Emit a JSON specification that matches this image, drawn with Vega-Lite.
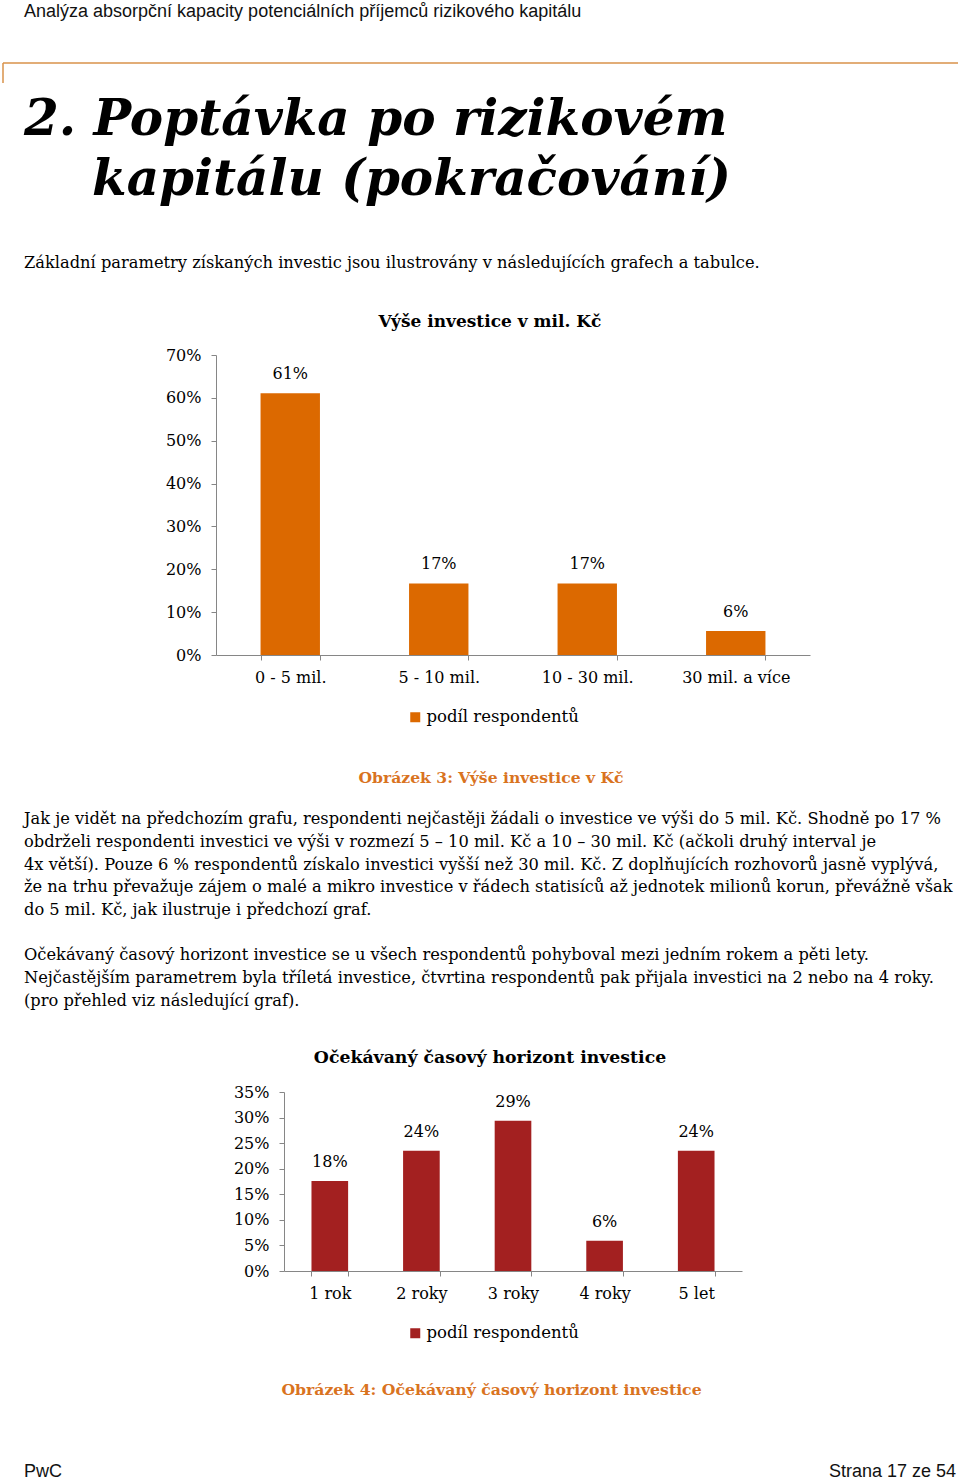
{
  "$schema": "https://vega.github.io/schema/vega-lite/v6.json",
  "padding": 0,
  "background": "white",
  "bounds": "flush",
  "spacing": 0,
  "resolve": {"scale": {"color": "independent", "x": "independent", "y": "independent"}, "legend": {"color": "independent"}},
  "config": {
    "view": {"stroke": null},
    "title": {"frame": "group", "orient": "bottom", "baseline": "top"}
  },
  "vconcat": [
    {
      "width": 960, "height": 63,
      "data": {"values": []},
      "mark": "text", "encoding": {},
      "title": {"text": "Analýza absorpční kapacity potenciálních příjemců rizikového kapitálu", "font": "Liberation Sans", "fontSize": 18, "fontWeight": "normal", "color": "#111111", "anchor": "start", "dx": 24, "offset": -60}
    },
    {
      "width": 960, "height": 20,
      "data": {"values": [{"a": 1}]},
      "layer": [
        {"mark": {"type": "rule", "color": "#D9924A", "strokeWidth": 1.5}, "encoding": {
          "x": {"datum": 0, "type": "quantitative", "scale": {"domain": [0, 1], "range": [3, 958]}, "axis": null},
          "x2": {"datum": 1},
          "y": {"datum": 1, "type": "quantitative", "scale": {"domain": [0, 1]}, "axis": null}}},
        {"mark": {"type": "rule", "color": "#D9924A", "strokeWidth": 1.5}, "encoding": {
          "x": {"datum": 0, "type": "quantitative", "scale": {"domain": [0, 1], "range": [3, 958]}, "axis": null},
          "y": {"datum": 0, "type": "quantitative", "scale": {"domain": [0, 1]}, "axis": null},
          "y2": {"datum": 1}}}
      ]
    },
    {
      "width": 960, "height": 62,
      "data": {"values": []},
      "mark": "text", "encoding": {},
      "title": {"text": "2. Poptávka po rizikovém", "font": "DejaVu Serif", "fontSize": 50, "fontWeight": "bold", "fontStyle": "italic", "color": "#000000", "anchor": "start", "dx": 24, "offset": -50}
    },
    {
      "width": 960, "height": 60,
      "data": {"values": []},
      "mark": "text", "encoding": {},
      "title": {"text": "kapitálu (pokračování)", "font": "DejaVu Serif", "fontSize": 50, "fontWeight": "bold", "fontStyle": "italic", "color": "#000000", "anchor": "start", "dx": 92, "offset": -50}
    },
    {
      "width": 960, "height": 95,
      "data": {"values": []},
      "mark": "text", "encoding": {},
      "title": {"text": "Základní parametry získaných investic jsou ilustrovány v následujících grafech a tabulce.", "font": "DejaVu Serif", "fontSize": 16.25, "fontWeight": "normal", "color": "#000000", "anchor": "start", "dx": 24, "offset": -45}
    },
    {
      "width": 960, "height": 55,
      "data": {"values": []},
      "mark": "text", "encoding": {},
      "title": {"text": "Výše investice v mil. Kč", "font": "DejaVu Serif", "fontSize": 17, "fontWeight": "bold", "color": "#000000", "anchor": "middle", "dx": 10, "offset": -41}
    },
    {
      "width": 960, "height": 300,
      "data": {"values": [
        {"kategorie": "0 - 5 mil.", "podil": 0.611, "serie": "podíl respondentů"},
        {"kategorie": "5 - 10 mil.", "podil": 0.167, "serie": "podíl respondentů"},
        {"kategorie": "10 - 30 mil.", "podil": 0.167, "serie": "podíl respondentů"},
        {"kategorie": "30 mil. a více", "podil": 0.056, "serie": "podíl respondentů"}
      ]},
      "encoding": {
        "x": {"field": "kategorie", "type": "nominal", "sort": null, "scale": {"range": [216, 810], "paddingInner": 0.6, "paddingOuter": 0.3},
          "axis": {"title": null, "labelAngle": 0, "tickBand": "extent", "domainColor": "#868686", "tickColor": "#868686", "tickSize": 5, "labelFont": "DejaVu Serif", "labelFontSize": 16, "labelColor": "#000000", "labelPadding": 9.5}},
        "y": {"field": "podil", "type": "quantitative", "scale": {"domain": [0, 0.7], "nice": false},
          "axis": {"title": null, "offset": -216, "values": [0, 0.1, 0.2, 0.3, 0.4, 0.5, 0.6, 0.7], "format": ".0%", "grid": false, "labelFlush": false, "labelOverlap": false, "domainColor": "#868686", "tickColor": "#868686", "tickSize": 5, "labelFont": "DejaVu Serif", "labelFontSize": 16, "labelColor": "#000000", "labelPadding": 10}}
      },
      "layer": [
        {"mark": {"type": "bar"}, "encoding": {"color": {"field": "serie", "type": "nominal", "scale": {"range": ["#DC6900"]},
          "legend": {"orient": "none", "legendX": 407, "legendY": 354, "title": null, "symbolType": "square", "symbolSize": 100, "symbolStrokeWidth": 0, "labelFont": "DejaVu Serif", "labelFontSize": 16.5, "labelColor": "#000000", "labelOffset": 3, "direction": "horizontal"}}}},
        {"mark": {"type": "text", "baseline": "bottom", "dy": -11, "font": "DejaVu Serif", "fontSize": 16, "color": "#000000"}, "encoding": {"text": {"field": "podil", "type": "quantitative", "format": ".0%"}}}
      ]
    },
    {
      "width": 960, "height": 145,
      "data": {"values": []},
      "mark": "text", "encoding": {},
      "title": {"text": "Obrázek 3: Výše investice v Kč", "font": "DejaVu Serif", "fontSize": 15.6, "fontWeight": "bold", "color": "#D9731F", "anchor": "middle", "dx": 11, "offset": -29}
    },
    {
      "width": 960, "height": 135,
      "data": {"values": []},
      "mark": "text", "encoding": {},
      "title": {"text": [
        "Jak je vidět na předchozím grafu, respondenti nejčastěji žádali o investice ve výši do 5 mil. Kč. Shodně po 17 %",
        "obdrželi respondenti investici ve výši v rozmezí 5 – 10 mil. Kč a 10 – 30 mil. Kč (ačkoli druhý interval je",
        "4x větší). Pouze 6 % respondentů získalo investici vyšší než 30 mil. Kč. Z doplňujících rozhovorů jasně vyplývá,",
        "že na trhu převažuje zájem o malé a mikro investice v řádech statisíců až jednotek milionů korun, převážně však",
        "do 5 mil. Kč, jak ilustruje i předchozí graf."
      ], "font": "DejaVu Serif", "fontSize": 16.25, "lineHeight": 22.75, "fontWeight": "normal", "color": "#000000", "anchor": "start", "dx": 24, "offset": -124}
    },
    {
      "width": 960, "height": 95,
      "data": {"values": []},
      "mark": "text", "encoding": {},
      "title": {"text": [
        "Očekávaný časový horizont investice se u všech respondentů pohyboval mezi jedním rokem a pěti lety.",
        "Nejčastějším parametrem byla tříletá investice, čtvrtina respondentů pak přijala investici na 2 nebo na 4 roky.",
        "(pro přehled viz následující graf)."
      ], "font": "DejaVu Serif", "fontSize": 16.25, "lineHeight": 22.75, "fontWeight": "normal", "color": "#000000", "anchor": "start", "dx": 24, "offset": -83}
    },
    {
      "width": 960, "height": 62,
      "data": {"values": []},
      "mark": "text", "encoding": {},
      "title": {"text": "Očekávaný časový horizont investice", "font": "DejaVu Serif", "fontSize": 17.3, "fontWeight": "bold", "color": "#000000", "anchor": "middle", "dx": 10, "offset": -43}
    },
    {
      "width": 960, "height": 179,
      "data": {"values": [
        {"kategorie": "1 rok", "podil": 0.176, "serie": "podíl respondentů"},
        {"kategorie": "2 roky", "podil": 0.235, "serie": "podíl respondentů"},
        {"kategorie": "3 roky", "podil": 0.294, "serie": "podíl respondentů"},
        {"kategorie": "4 roky", "podil": 0.059, "serie": "podíl respondentů"},
        {"kategorie": "5 let", "podil": 0.235, "serie": "podíl respondentů"}
      ]},
      "encoding": {
        "x": {"field": "kategorie", "type": "nominal", "sort": null, "scale": {"range": [284, 742], "paddingInner": 0.6, "paddingOuter": 0.3},
          "axis": {"title": null, "labelAngle": 0, "tickBand": "extent", "domainColor": "#868686", "tickColor": "#868686", "tickSize": 5, "labelFont": "DejaVu Serif", "labelFontSize": 16, "labelColor": "#000000", "labelPadding": 9.5}},
        "y": {"field": "podil", "type": "quantitative", "scale": {"domain": [0, 0.35], "nice": false},
          "axis": {"title": null, "offset": -284, "values": [0, 0.05, 0.1, 0.15, 0.2, 0.25, 0.3, 0.35], "format": ".0%", "grid": false, "labelFlush": false, "labelOverlap": false, "domainColor": "#868686", "tickColor": "#868686", "tickSize": 5, "labelFont": "DejaVu Serif", "labelFontSize": 16, "labelColor": "#000000", "labelPadding": 10}}
      },
      "layer": [
        {"mark": {"type": "bar"}, "encoding": {"color": {"field": "serie", "type": "nominal", "scale": {"range": ["#A32020"]},
          "legend": {"orient": "none", "legendX": 407, "legendY": 233, "title": null, "symbolType": "square", "symbolSize": 100, "symbolStrokeWidth": 0, "labelFont": "DejaVu Serif", "labelFontSize": 16.5, "labelColor": "#000000", "labelOffset": 3, "direction": "horizontal"}}}},
        {"mark": {"type": "text", "baseline": "bottom", "dy": -11, "font": "DejaVu Serif", "fontSize": 16, "color": "#000000"}, "encoding": {"text": {"field": "podil", "type": "quantitative", "format": ".0%"}}}
      ]
    },
    {
      "width": 960, "height": 149,
      "data": {"values": []},
      "mark": "text", "encoding": {},
      "title": {"text": "Obrázek 4: Očekávaný časový horizont investice", "font": "DejaVu Serif", "fontSize": 15.7, "fontWeight": "bold", "color": "#D9731F", "anchor": "middle", "dx": 11.5, "offset": -37}
    },
    {
      "bounds": "flush", "spacing": 0,
      "hconcat": [
        {
          "width": 480, "height": 62,
          "data": {"values": []},
          "mark": "text", "encoding": {},
          "title": {"text": "PwC", "font": "Liberation Sans", "fontSize": 18, "fontWeight": "normal", "color": "#111111", "anchor": "start", "dx": 24, "offset": -19}
        },
        {
          "width": 480, "height": 62,
          "data": {"values": []},
          "mark": "text", "encoding": {},
          "title": {"text": "Strana 17 ze 54", "font": "Liberation Sans", "fontSize": 18, "fontWeight": "normal", "color": "#111111", "anchor": "end", "dx": -4, "offset": -19}
        }
      ]
    }
  ]
}
